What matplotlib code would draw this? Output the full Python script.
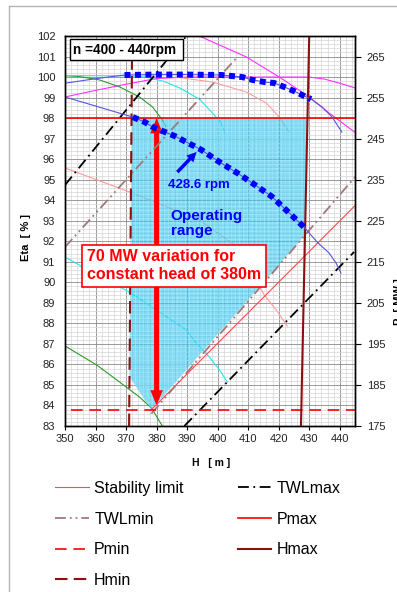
import numpy as np
import matplotlib.pyplot as plt
from matplotlib.lines import Line2D
from matplotlib.patches import FancyArrowPatch

plt.rcParams['font.family'] = ['Liberation Sans', 'DejaVu Sans']
plt.rcParams['hatch.linewidth'] = 0.6

# axis ranges
h_range = (350, 445)
eta_range = (83, 102)
p_range = (175, 270)

# operating limits [MW] / [m]
p_max = 250
p_min = 179
hmax_h = [427.3, 430.0]
hmax_p = [175, 270]
hmin_h = [371.0, 372.0]
hmin_p = [175, 270]
twlmax_a_h = [350, 389.8]
twlmax_a_p = [233.7, 270]
twlmax_b_h = [389.1, 444.7]
twlmax_b_p = [175, 217.4]
twlmin_a_h = [350, 406.5]
twlmin_a_p = [218.6, 264.9]
twlmin_b_h = [378.3, 445.3]
twlmin_b_p = [178.0, 235.9]
stab_h = [378.2, 445.3]
stab_p = [178.9, 228.9]

# operating range polygon
op_h = [371.8, 429.4, 428.7, 378.3, 371.1]
op_p = [250, 250, 221.6, 179, 187]

# 428.6 rpm curves [MW]
n428_up_h = np.array([350, 360, 369.5, 380, 390, 401.2, 408.1, 411.4, 415.3, 418.5,
                      421.8, 425.0, 428.3, 430.6, 434.2, 437.5, 440.7])
n428_up_p = np.array([258.5, 259.6, 260.5, 260.6, 260.6, 260.5, 260.0, 259.3, 258.8, 258.55,
                      257.6, 256.6, 255.4, 254.65, 252.7, 250.25, 246.6])
n428_lo_h = np.array([350, 372.2, 376.1, 378.7, 385.9, 394.7, 400.6, 406.4, 412.3, 417.9,
                      422.8, 428.3, 432.6, 436.5, 438.8, 440.4])
n428_lo_p = np.array([255.15, 250.25, 249.05, 247.85, 245.65, 242.25, 239.3, 236.65, 233.7, 230.8,
                      227.35, 223.45, 219.8, 217.15, 214.7, 212.25])

# efficiency curves [%]
mag_top_h = [391.5, 394.7, 409.4, 420.2, 430.0, 436.5, 445.3]
mag_top_eta = [102.2, 101.95, 100.98, 100.0, 99.03, 98.25, 97.27]
mag_flat_h = [350, 360, 370, 380, 390, 430, 435, 440, 445]
mag_flat_eta = [99.03, 99.35, 99.65, 99.93, 100.0, 100.0, 99.9, 99.7, 99.47]
green_top_h = [350, 355, 361.3, 367.9, 374.4, 378.7, 381.9, 383.0]
green_top_eta = [100.07, 100.02, 99.86, 99.52, 99.03, 98.54, 97.91, 97.6]
cyan_top_h = [350, 370, 376.7, 382.6, 387.5, 394.0, 398.3, 401.2, 402.2]
cyan_top_eta = [100.07, 100.06, 100.0, 99.78, 99.47, 98.93, 98.25, 97.76, 97.32]
salmon_top_h = [386, 398.3, 409.4, 415.9, 420.2, 423.4]
salmon_top_eta = [100.0, 99.76, 99.27, 98.74, 98.05, 97.32]
salmon_left_h = [350, 371.2, 394.0, 405.5, 412.0, 415.3, 419.2, 422.8]
salmon_left_eta = [95.57, 94.40, 93.04, 91.82, 90.26, 89.38, 88.65, 87.87]
cyan_low_h = [350, 356.4, 364.6, 372.1, 380.9, 389.7, 393.0, 397.3, 400.6, 403.2]
cyan_low_eta = [91.23, 90.70, 90.06, 89.43, 88.55, 87.68, 87.04, 86.36, 85.73, 85.14]
green_low_h = [350, 360.4, 367.9, 374.4, 378.3, 381.9]
green_low_eta = [86.9, 85.97, 85.14, 84.41, 83.88, 83.0]

arrow_h = 380
arrow_p = [250, 180]

# line styles
red = '#ff0000'
dark_red = '#8b1010'
twlmin_col = '#a07878'
st_stab = dict(color='#ff4a4a', lw=0.8)
st_twlmax = dict(color='black', lw=1.3, dashes=(6, 2.5, 1, 2.5))
st_twlmin = dict(color=twlmin_col, lw=1.3, dashes=(6, 2.2, 1, 2.2, 1, 2.2))
st_pmax = dict(color=red, lw=1.2)
st_pmin = dict(color=red, lw=1.2, dashes=(7, 4))
st_hmax = dict(color=dark_red, lw=1.5)
st_hmin = dict(color=dark_red, lw=1.5, dashes=(6, 3))

fig = plt.figure(figsize=(3.97, 5.92), dpi=100)
ax = fig.add_axes([65 / 397, 1 - 426 / 592, 290 / 397, 390 / 592])
ax2 = ax.twinx()

ax.set_xlim(*h_range)
ax.set_ylim(*eta_range)
ax2.set_ylim(*p_range)

ax.set_xticks(np.arange(350, 441, 10))
ax.set_xticks(np.arange(350, 446, 2), minor=True)
ax.set_yticks(np.arange(83, 103, 1))
ax.set_yticks(np.arange(83, 102.01, 0.2), minor=True)
ax2.set_yticks(np.arange(175, 266, 10))

ax.grid(which='minor', color='#d6d6d6', lw=0.5)
ax.grid(which='major', color='#8a8a8a', lw=0.6)
ax.set_axisbelow(True)

ax.tick_params(axis='y', which='both', length=0, pad=7, labelsize=8, labelcolor='#222222')
ax.tick_params(axis='x', which='major', length=3, pad=3, labelsize=8, labelcolor='#222222')
ax.tick_params(axis='x', which='minor', length=0)
ax2.tick_params(axis='y', length=4, pad=4.5, labelsize=8, labelcolor='#222222')
for a in (ax, ax2):
    for s in a.spines.values():
        s.set_color('black')
        s.set_linewidth(1.0)

# efficiency curves
ax.plot(mag_top_h, mag_top_eta, color='#ff30ff', lw=0.8)
ax.plot(mag_flat_h, mag_flat_eta, color='#ff30ff', lw=0.8)
ax.plot(green_top_h, green_top_eta, color='#2e9a2e', lw=0.8)
ax.plot(cyan_top_h, cyan_top_eta, color='#20e8f0', lw=0.8)
ax.plot(salmon_top_h, salmon_top_eta, color='#ffa0a0', lw=0.8)
ax.plot(salmon_left_h, salmon_left_eta, color='#ff9a9a', lw=0.8)
ax.plot(cyan_low_h, cyan_low_eta, color='#20e8f0', lw=0.8)
ax.plot(green_low_h, green_low_eta, color='#2e9a2e', lw=0.8)

# operating range, speckled cyan fill
ax2.fill(op_h, op_p, facecolor='#2cc6f0', alpha=0.6, edgecolor='none')
ax2.fill(op_h, op_p, facecolor='none', edgecolor='#c8f2fc', hatch='++++', lw=0, alpha=0.45)

# limits
ax2.plot(stab_h, stab_p, **st_stab)
ax2.plot(twlmax_a_h, twlmax_a_p, **st_twlmax)
ax2.plot(twlmax_b_h, twlmax_b_p, **st_twlmax)
ax2.plot(twlmin_a_h, twlmin_a_p, **st_twlmin)
ax2.plot(twlmin_b_h, twlmin_b_p, **st_twlmin)
ax2.axhline(p_max, **st_pmax)
ax2.axhline(p_min, xmin=0.02, **st_pmin)
ax2.plot(hmax_h, hmax_p, **st_hmax)
ax2.plot(hmin_h, hmin_p, **st_hmin)

# 428.6 rpm curves, thick dotted inside the head range
for hh, pp, lo, hi in ((n428_up_h, n428_up_p, 369.5, 430.6), (n428_lo_h, n428_lo_p, 372.2, 428.3)):
    ax2.plot(hh, pp, color='#5656e0', lw=0.8)
    m = (hh >= lo) & (hh <= hi)
    ax2.plot(hh[m], pp[m], color='#0000ff', lw=4.3, dashes=(1, 0.75), dash_capstyle='butt')

# 70 MW arrow
mid = (arrow_p[0] + arrow_p[1]) / 2
for end in arrow_p:
    ax2.add_patch(FancyArrowPatch((arrow_h, mid), (arrow_h, end),
                                  arrowstyle='simple,head_length=0.55,head_width=0.45,tail_width=0.18',
                                  mutation_scale=20, color=red, lw=0, shrinkA=0, shrinkB=0))

ax2.annotate('', xy=(393.1, 241.75), xytext=(386.8, 236.85),
             arrowprops=dict(arrowstyle='simple,head_length=0.7,head_width=0.7,tail_width=0.25',
                             mutation_scale=10, color='#0000ff', lw=0, shrinkA=0, shrinkB=0))

ax2.text(352.6, 266.7, 'n =400 - 440rpm ', fontsize=9.8, fontweight='bold', va='center', ha='left',
         bbox=dict(boxstyle='square,pad=0.25', fc='white', ec='black', lw=1))
ax2.text(393.7, 233.7, '428.6 rpm', fontsize=9.5, fontweight='bold', color='#0000ff', ha='center', va='center')
ax2.text(384.6, 224.3, 'Operating\nrange', fontsize=11, fontweight='bold', color='#0000ff',
         ha='left', va='center', linespacing=1.05)
ax2.text(357.1, 214.0, '70 MW variation for\nconstant head of 380m', fontsize=11.5, fontweight='bold',
         color=red, ha='left', va='center', linespacing=1.25,
         bbox=dict(boxstyle='square,pad=0.3', fc='white', ec=red, lw=1.2))

fig.text(26 / 397, 1 - 238 / 592, 'Eta  [ % ]', rotation=90, ha='center', va='center',
         fontsize=8, fontweight='bold')
fig.text(211 / 397, 1 - 463 / 592, 'H   [ m ]', ha='center', va='center', fontsize=7.5, fontweight='bold')
fig.text(399 / 397, 1 - 302 / 592, 'P  [ MW ]', rotation=90, ha='center', va='center',
         fontsize=8, fontweight='bold')

handles = [Line2D([], [], **st_stab), Line2D([], [], **st_twlmin), Line2D([], [], **st_pmin),
           Line2D([], [], **st_hmin), Line2D([], [], **st_twlmax), Line2D([], [], **st_pmax),
           Line2D([], [], **st_hmax)]
labels = ['Stability limit', 'TWLmin', 'Pmin', 'Hmin', 'TWLmax', 'Pmax', 'Hmax']
fig.legend(handles, labels, ncol=2, loc='upper left', bbox_to_anchor=(55 / 397, 1 - 481 / 592),
           frameon=False, fontsize=11.5, handlelength=2.1, handletextpad=0.35,
           columnspacing=3.4, labelspacing=0.98, borderaxespad=0, borderpad=0)

# chart area border
fig.add_artist(Line2D([9 / 397, 9 / 397], [0, 1 - 6 / 592], transform=fig.transFigure, color='#b4b4b4', lw=1))
fig.add_artist(Line2D([9 / 397, 1], [1 - 6 / 592, 1 - 6 / 592], transform=fig.transFigure, color='#b4b4b4', lw=1))

fig.savefig('out.png', dpi=100)
